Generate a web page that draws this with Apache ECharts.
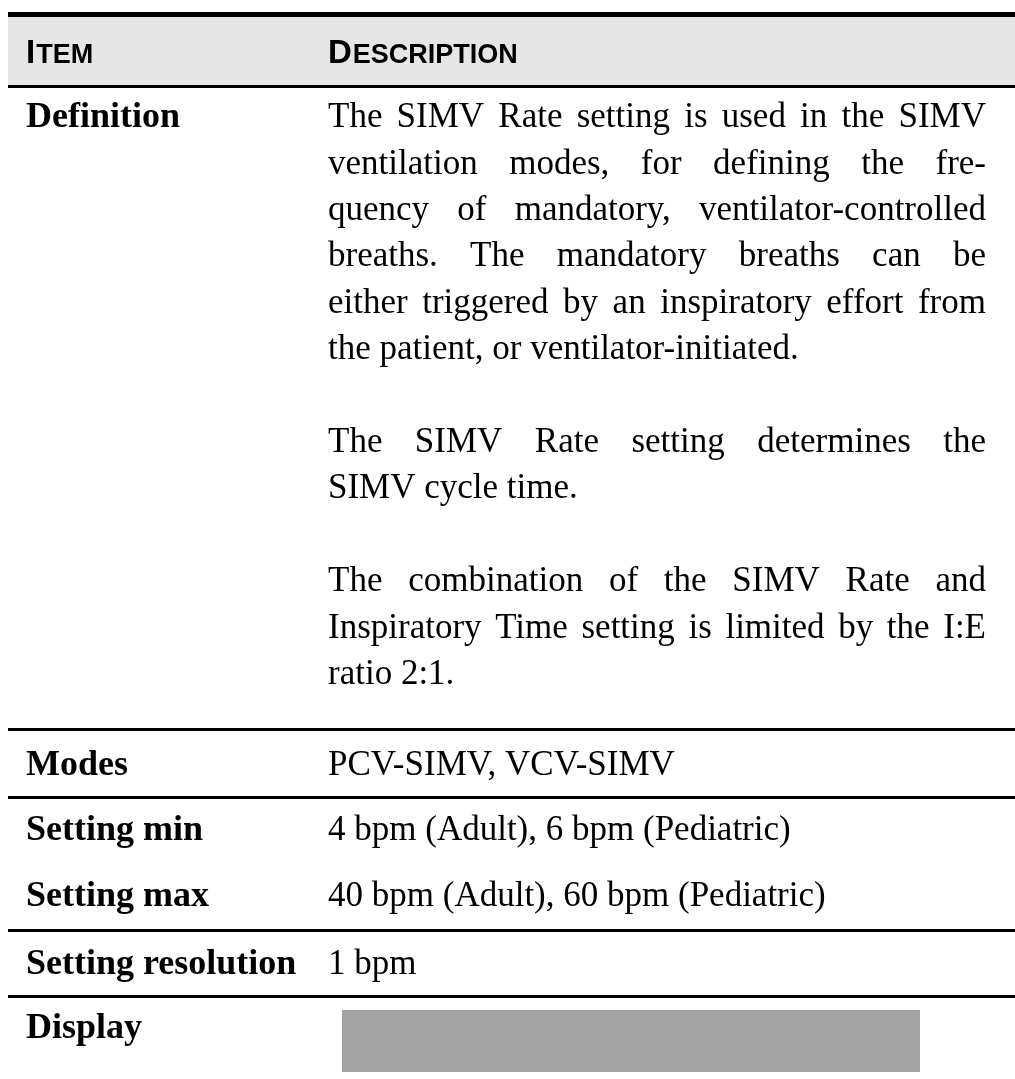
<!DOCTYPE html>
<html>
<head>
<meta charset="utf-8">
<script src="https://cdn.jsdelivr.net/npm/echarts@6/dist/echarts.min.js"></script>
<style>
  html, body { margin: 0; padding: 0; background: #fff; }
  #chart { width: 1015px; height: 1079px; }
</style>
</head>
<body>
<div id="chart"></div>
<script>
// ---- table content ----
const headerItem = ['I', 'TEM'];
const headerDesc = ['D', 'ESCRIPTION'];
const rowItems = ['Definition', 'Modes', 'Setting min', 'Setting max', 'Setting resolution', 'Display'];
const definitionParagraphs = [
  [
    'The SIMV Rate setting is used in the SIMV',
    'ventilation modes, for defining the fre-',
    'quency of mandatory, ventilator-controlled',
    'breaths. The mandatory breaths can be',
    'either triggered by an inspiratory effort from',
    'the patient, or ventilator-initiated.'
  ],
  [
    'The SIMV Rate setting determines the',
    'SIMV cycle time.'
  ],
  [
    'The combination of the SIMV Rate and',
    'Inspiratory Time setting is limited by the I:E',
    'ratio 2:1.'
  ]
];
const modesText = 'PCV-SIMV, VCV-SIMV';
const settingMinText = '4 bpm (Adult), 6 bpm (Pediatric)';
const settingMaxText = '40 bpm (Adult), 60 bpm (Pediatric)';
const resolutionText = '1 bpm';

// ---- layout ----
const W = 1015;
const LEFT = 8;
const COL1 = 26;
const COL2 = 328;
const COL2_RIGHT = 986;
const LINE_H = 46.4;
const DY = 3;
const BODY_FONT = '35px "Liberation Serif", "Times New Roman", serif';
const BOLD_FONT = 'bold 36px "Liberation Serif", "Times New Roman", serif';
const HEAD_BIG = 'bold 33px "Liberation Sans", Arial, sans-serif';
const HEAD_SMALL = 'bold 27px "Liberation Sans", Arial, sans-serif';
const INK = '#000000';

const ctx = document.createElement('canvas').getContext('2d');
function measure(text, font) { ctx.font = font; return ctx.measureText(text).width; }

const elements = [];
function rect(x, y, w, h, fill) {
  elements.push({ type: 'rect', shape: { x: x, y: y, width: w, height: h }, style: { fill: fill }, silent: true });
}
function text(str, x, y, font) {
  elements.push({
    type: 'text', x: x, y: y + DY, silent: true,
    style: { text: str, font: font, fill: INK, align: 'left', verticalAlign: 'middle', textAlign: 'left', textVerticalAlign: 'middle' }
  });
}
function smallCaps(parts, x, baseline) {
  const w0 = measure(parts[0], HEAD_BIG);
  elements.push({
    type: 'text', x: x, y: baseline + 0.21 * 33, silent: true,
    style: { text: parts[0], font: HEAD_BIG, fill: INK, align: 'left', verticalAlign: 'bottom', textAlign: 'left', textVerticalAlign: 'bottom' }
  });
  elements.push({
    type: 'text', x: x + w0 + 1, y: baseline + 0.21 * 27, silent: true,
    style: { text: parts[1], font: HEAD_SMALL, fill: INK, align: 'left', verticalAlign: 'bottom', textAlign: 'left', textVerticalAlign: 'bottom' }
  });
}
function justified(line, y) {
  const words = line.split(' ');
  const widths = words.map(w => measure(w, BODY_FONT));
  const total = widths.reduce((a, b) => a + b, 0);
  const gap = (COL2_RIGHT - COL2 - total) / (words.length - 1);
  let x = COL2;
  words.forEach((w, i) => { text(w, x, y, BODY_FONT); x += widths[i] + gap; });
}

// header
rect(LEFT, 12, W - LEFT, 5, '#000');
rect(LEFT, 17, W - LEFT, 69, '#e6e6e6');
rect(LEFT, 85, W - LEFT, 3, '#000');
smallCaps(headerItem, COL1, 63.5);
smallCaps(headerDesc, COL2, 63.5);

// definition row
let y = 115;
text(rowItems[0], COL1, y, BOLD_FONT);
definitionParagraphs.forEach((para) => {
  para.forEach((line, li) => {
    if (li < para.length - 1) justified(line, y); else text(line, COL2, y, BODY_FONT);
    y += LINE_H;
  });
  y += LINE_H;
});

rect(LEFT, 728, W - LEFT, 3, '#000');
text(rowItems[1], COL1, 763, BOLD_FONT);
text(modesText, COL2, 763, BODY_FONT);

rect(LEFT, 796, W - LEFT, 3, '#000');
text(rowItems[2], COL1, 828, BOLD_FONT);
text(settingMinText, COL2, 828, BODY_FONT);
text(rowItems[3], COL1, 894, BOLD_FONT);
text(settingMaxText, COL2, 894, BODY_FONT);

rect(LEFT, 929, W - LEFT, 3, '#000');
text(rowItems[4], COL1, 962, BOLD_FONT);
text(resolutionText, COL2, 962, BODY_FONT);

rect(LEFT, 995, W - LEFT, 3, '#000');
text(rowItems[5], COL1, 1026, BOLD_FONT);
rect(342, 1010, 578, 62, '#a3a3a3');

const chart = echarts.init(document.getElementById('chart'), null, { renderer: 'canvas' });
chart.setOption({
  animation: false,
  backgroundColor: '#ffffff',
  graphic: { elements: elements }
});
</script>
</body>
</html>
